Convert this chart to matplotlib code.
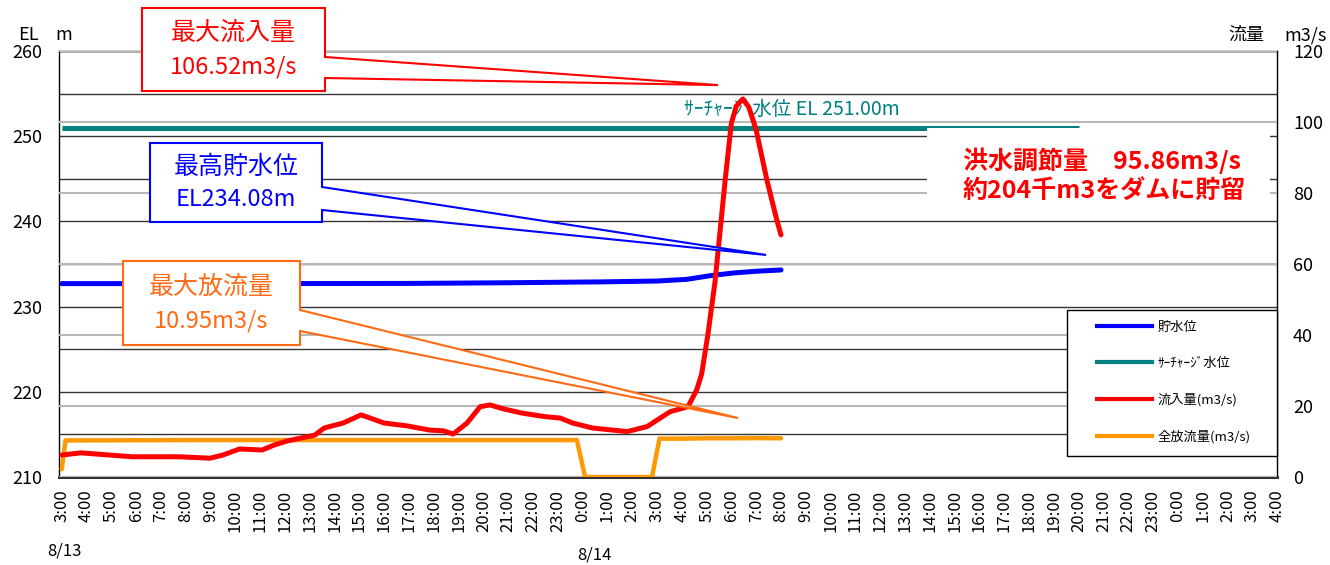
import matplotlib
matplotlib.use('Agg')
import matplotlib.pyplot as plt
from matplotlib.patches import Polygon, Rectangle
from matplotlib.lines import Line2D
from matplotlib.transforms import IdentityTransform

plt.rcParams['font.family'] = ['Noto Sans CJK JP', 'DejaVu Sans']

W, H = 1330, 565

# hours counted from 8/13 3:00
tick_hours = list(range(50))
tick_labels = [f"{(3 + h) % 24}:00" for h in tick_hours]

# 貯水位 (EL m)
level_t = [0, 8, 14, 18, 21.7, 24, 25.2, 26.2, 27.1, 28, 29]
level_el = [232.7, 232.7, 232.72, 232.8, 232.9, 233.0, 233.2, 233.65, 233.95, 234.15, 234.3]

# サーチャージ水位
surcharge_t = [0, 41]
surcharge_el = [251.0, 251.0]

# 流入量 (m3/s)
inflow_t = [0, 0.78, 1.9, 2.83, 4.7, 5.98, 6.5, 7.17, 8.08, 8.56, 9.12, 10.2, 10.58,
            11.34, 12.07, 13.0, 13.92, 14.85, 15.4, 15.78, 16.34, 16.87, 17.27, 17.8,
            18.56, 19.49, 20.1, 20.6, 21.4, 22.8, 23.6, 24.53, 25.25, 25.6, 25.8,
            26.05, 26.34, 26.75, 27.0, 27.2, 27.46, 27.7, 27.85, 28.0, 28.43, 28.83, 29.0]
inflow_q = [6.2, 6.8, 6.2, 5.7, 5.7, 5.3, 6.2, 7.9, 7.6, 9.0, 10.2, 11.8, 13.8,
            15.2, 17.5, 15.2, 14.4, 13.2, 13.0, 12.1, 15.2, 19.8, 20.3, 19.2,
            18.0, 17.0, 16.6, 15.2, 13.8, 12.8, 14.2, 18.4, 19.8, 24.5, 29.0,
            40.0, 55.0, 83.7, 99.7, 104.5, 106.5, 104.2, 101.0, 97.7, 83.7, 72.4, 68.2]

# 全放流量 (m3/s)
outflow_t = [0, 0.15, 5, 10, 15, 20, 20.77, 21.1, 23.8, 24.1, 25, 26, 27, 28, 29]
outflow_q = [2.2, 10.3, 10.4, 10.4, 10.4, 10.4, 10.4, 0.0, 0.0, 10.8, 10.8, 10.9, 10.9, 10.95, 10.9]

fig = plt.figure(figsize=(W / 100, H / 100), dpi=100)
ax = fig.add_axes([59.3 / W, 1 - 477 / H, (1277 - 59.3) / W, (477 - 51) / H])
ax2 = ax.twinx()

ax.set_xlim(-0.1, 49)
ax.set_ylim(210, 260)
ax2.set_ylim(0, 120)

ax.set_yticks(range(210, 261, 10))
ax.set_yticks(range(215, 260, 10), minor=True)
ax.grid(True, which='both', axis='y', color='#333333', lw=1)
ax.set_axisbelow(True)
ax2.set_yticks(range(0, 121, 20))
ax2.grid(True, axis='y', color='#b8b8b8', lw=1.5, zorder=0)
ax2.set_axisbelow(True)

ax.set_xticks(tick_hours)
ax.set_xticklabels(tick_labels, rotation=90, fontsize=12)
ax.tick_params(axis='x', length=0, pad=9)
ax.tick_params(axis='y', which='both', length=0, pad=12, labelsize=13)
ax2.tick_params(axis='y', length=0, pad=11.5, labelsize=13)

for s in ['left', 'right', 'top']:
    ax.spines[s].set_color('black')
    ax.spines[s].set_linewidth(1)
ax.spines['bottom'].set_color('#333333')
ax.spines['bottom'].set_linewidth(2.2)
for s in ax2.spines.values():
    s.set_visible(False)

c_level = '#0000FF'
c_sur = '#008080'
c_in = '#FF0000'
c_out = '#FF9900'
c_call = '#FF6A13'

ax.plot(surcharge_t, surcharge_el, color=c_sur, lw=3.6, solid_capstyle='butt')
ax.plot(level_t, level_el, color=c_level, lw=3.6, solid_capstyle='round')
ax2.plot(outflow_t, outflow_q, color=c_out, lw=3.2, solid_capstyle='round')
ax2.plot(inflow_t, inflow_q, color=c_in, lw=3.6, solid_capstyle='round',
         solid_joinstyle='round')

ax.text(29.45, 253.1, 'ｻｰﾁｬｰｼﾞ水位 EL 251.00m', color=c_sur, fontsize=14,
        ha='center', va='center')

# axis headers and dates
fig.text(18 / W, 1 - 35 / H, 'EL', fontsize=13, va='center')
fig.text(55 / W, 1 - 35 / H, 'm', fontsize=13, va='center')
fig.text(1228 / W, 1 - 35 / H, '流量', fontsize=13, va='center')
fig.text(1284 / W, 1 - 35 / H, 'm3/s', fontsize=13, va='center')
fig.text(64 / W, 1 - 551 / H, '8/13', fontsize=12, ha='center', va='center')
fig.text(594 / W, 1 - 555 / H, '8/14', fontsize=12, ha='center', va='center')


def to_img(axis, x, y):
    dx, dy = axis.transData.transform((x, y))
    return dx, H - dy


def callout(box, wa, wb, tip, color, line1, line2):
    x0, y0, x1, y1 = box
    tx, ty = tip
    pts = [(x0, y0), (x1, y0), (x1, wa), (tx, ty), (x1, wb), (x1, y1), (x0, y1)]
    poly = Polygon([(x, H - y) for x, y in pts], closed=True, transform=IdentityTransform(),
                   facecolor='white', edgecolor=color, lw=1.5, zorder=3)
    fig.add_artist(poly)
    cx = (x0 + x1) / 2
    fig.text(cx / W, 1 - (y0 + (y1 - y0) * 0.3) / H, line1, color=color, fontsize=18,
             ha='center', va='center', zorder=4)
    fig.text(cx / W, 1 - (y0 + (y1 - y0) * 0.71) / H, line2, color=color, fontsize=17,
             ha='center', va='center', zorder=4)


callout((142, 8, 325, 91), 57, 78, to_img(ax2, 26.46, 110.4), c_in, '最大流入量', '106.52m3/s')
callout((150, 143, 322, 222), 187, 210, to_img(ax, 28.4, 236.06), c_level, '最高貯水位', 'EL234.08m')
callout((123, 261, 300, 345), 310, 331, to_img(ax2, 27.27, 16.6), c_call, '最大放流量', '10.95m3/s')

# flood control note on white background
fig.add_artist(Rectangle((927 / W, 1 - 212 / H), (1270 - 927) / W, (212 - 128) / H,
                         transform=fig.transFigure, facecolor='white', edgecolor='none', zorder=2))
fig.text(963 / W, 1 - 161 / H, '洪水調節量　95.86m3/s', color=c_in, fontsize=18,
         fontweight='bold', va='center', zorder=4)
fig.text(963 / W, 1 - 191 / H, '約204千m3をダムに貯留', color=c_in, fontsize=18,
         fontweight='bold', va='center', zorder=4)

# legend
fig.add_artist(Rectangle((1067 / W, 1 - 456 / H), (1277 - 1067) / W, (456 - 310) / H,
                         transform=fig.transFigure, facecolor='white', edgecolor='black',
                         lw=1, zorder=3))
handles = [Line2D([], [], color=c, lw=3) for c in [c_level, c_sur, c_in, c_out]]
labels = ['貯水位', 'ｻｰﾁｬｰｼﾞ水位', '流入量(m3/s)', '全放流量(m3/s)']
leg = fig.legend(handles, labels, loc='upper left', bbox_to_anchor=(1097 / W, 1 - 321 / H),
                 frameon=False, fontsize=9.5, handlelength=4.2, handletextpad=0.4,
                 labelspacing=1.75, borderpad=0, borderaxespad=0)
leg.set_zorder(5)

fig.savefig('out.png', dpi=100)
